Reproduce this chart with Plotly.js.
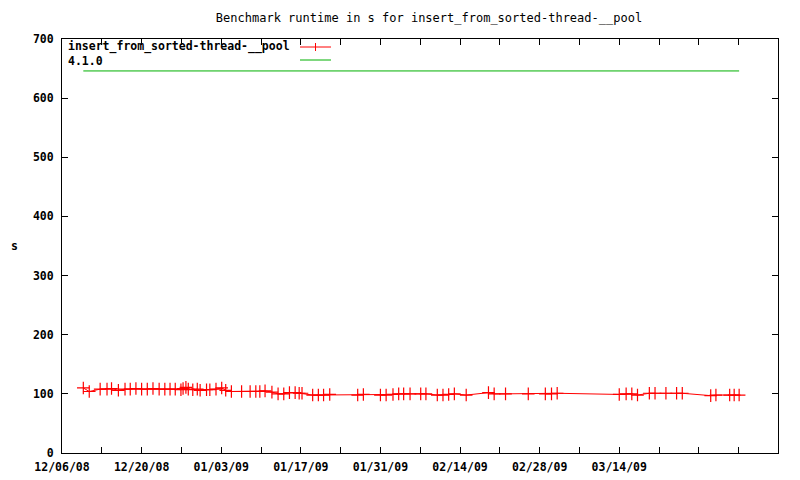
<!DOCTYPE html>
<html>
<head>
<meta charset="utf-8">
<script src="https://cdn.plot.ly/plotly-3.0.1.min.js"></script>
<style>html,body{margin:0;padding:0;background:#fff;}#chart{width:800px;height:480px;}</style>
</head>
<body>
<div id="chart"></div>
<script>
// ---- data ----
const seriesName = 'insert_from_sorted-thread-__pool';
const baselineName = '4.1.0';

const runDates = [
  '2008-12-09 18:00','2008-12-10 19:00','2008-12-12 17:00','2008-12-13 22:00','2008-12-14 17:00',
  '2008-12-15 22:00','2008-12-17 02:00','2008-12-18 00:00','2008-12-19 00:00','2008-12-20 00:00',
  '2008-12-21 00:00','2008-12-22 00:00','2008-12-23 02:00','2008-12-24 02:00','2008-12-25 00:00',
  '2008-12-25 22:00','2008-12-26 22:00','2008-12-27 07:00','2008-12-27 19:00','2008-12-28 05:00',
  '2008-12-29 00:00','2008-12-29 19:00','2008-12-30 07:00','2008-12-31 10:00','2009-01-01 00:00',
  '2009-01-02 02:00','2009-01-03 02:00','2009-01-03 19:00','2009-01-04 19:00','2009-01-06 14:00',
  '2009-01-08 02:00','2009-01-09 02:00','2009-01-09 19:00','2009-01-10 17:00','2009-01-11 22:00',
  '2009-01-13 00:00','2009-01-14 00:00','2009-01-15 00:00','2009-01-16 00:00','2009-01-16 17:00',
  '2009-01-17 05:00','2009-01-19 02:00','2009-01-20 02:00','2009-01-21 00:00','2009-01-22 02:00',
  '2009-01-27 00:00','2009-01-28 00:00','2009-01-31 00:00','2009-02-01 00:00','2009-02-02 05:00',
  '2009-02-03 05:00','2009-02-04 02:00','2009-02-05 05:00','2009-02-07 02:00','2009-02-08 00:00',
  '2009-02-10 00:00','2009-02-11 00:00','2009-02-12 00:00','2009-02-13 00:00','2009-02-15 02:00',
  '2009-02-19 00:00','2009-02-20 00:00','2009-02-22 00:00','2009-02-26 00:00','2009-03-01 00:00',
  '2009-03-02 02:00','2009-03-03 02:00','2009-03-14 00:00','2009-03-15 05:00','2009-03-16 05:00',
  '2009-03-17 05:00','2009-03-19 07:00','2009-03-20 07:00','2009-03-22 05:00','2009-03-24 02:00',
  '2009-03-25 02:00','2009-03-30 02:00','2009-03-31 00:00','2009-04-02 10:00','2009-04-03 05:00',
  '2009-04-04 02:00'
];
const runValues = [
  110,104,108,108,109,
  106,108,108,109,108,
  108,109,108,108,108,
  108,107,109,111,108,
  107,108,106,107,107,
  108,110,106,104,104,
  104,104,104,105,103,
  100,100,102,102,101,
  101,98,98,98,99,
  98,99,98,98,99,
  100,100,100,100,100,
  98,98,99,100,98,
  102,100,100,100,100,
  100,101,99,100,100,
  98,101,101,101,101,
  101,97,98,98,98,
  98
];

const baselineDates = ['2008-12-09 18:00','2009-04-04 02:00'];
const baselineValues = [646, 646];

const tickDates = ['2008-12-06','2008-12-13','2008-12-20','2008-12-27','2009-01-03','2009-01-10',
  '2009-01-17','2009-01-24','2009-01-31','2009-02-07','2009-02-14','2009-02-21','2009-02-28',
  '2009-03-07','2009-03-14','2009-03-21','2009-03-28','2009-04-04'];
const tickLabels = ['12/06/08','','12/20/08','','01/03/09','','01/17/09','','01/31/09','',
  '02/14/09','','02/28/09','','03/14/09','','',''];
const yTicks = [0,100,200,300,400,500,600,700];

// ---- chart ----
const MONO = '"DejaVu Sans Mono", "Liberation Mono", monospace';
const RED = '#ff0000', GREEN = '#00b000';

const traces = [
  {
    x: runDates, y: runValues, name: seriesName, type: 'scatter', mode: 'lines+markers',
    line: {color: RED, width: 1},
    marker: {symbol: 'cross-thin-open', size: 9, color: RED, line: {color: RED, width: 1.2}},
    showlegend: false
  },
  {
    x: baselineDates, y: baselineValues, name: baselineName, type: 'scatter', mode: 'lines',
    line: {color: GREEN, width: 1}, showlegend: false
  }
];

const L = 62, R = 778, T = 39, B = 453;
const px = v => (v - L) / (R - L);
const py = v => (B - v) / (B - T);

const layout = {
  width: 800, height: 480,
  margin: {l: L, r: 800 - R, t: T, b: 480 - B},
  paper_bgcolor: '#fff', plot_bgcolor: '#fff',
  title: {text: 'Benchmark runtime in s for ' + seriesName, font: {family: MONO, size: 12, color: '#000'},
          x: 429 / 800, xanchor: 'center', y: 1 - 18 / 480, yanchor: 'middle', yref: 'container'},
  xaxis: {
    type: 'date', range: ['2008-12-06', '2009-04-10 22:00'],
    tickmode: 'array', tickvals: tickDates, ticktext: tickLabels,
    ticks: 'inside', ticklen: 6, tickcolor: '#000', tickwidth: 1,
    showline: true, linecolor: '#000', linewidth: 1, mirror: 'ticks',
    showgrid: false, zeroline: false, ticklabelstandoff: 3,
    tickfont: {family: MONO, size: 11.5, color: '#000', weight: 'bold'}
  },
  yaxis: {
    range: [0, 700], tickmode: 'array', tickvals: yTicks, ticktext: yTicks.map(String),
    ticks: 'inside', ticklen: 6, tickcolor: '#000', tickwidth: 1,
    showline: true, linecolor: '#000', linewidth: 1, mirror: 'ticks',
    showgrid: false, zeroline: false, ticklabelstandoff: 5,
    tickfont: {family: MONO, size: 11.5, color: '#000', weight: 'bold'}
  },
  annotations: [
    {text: 's', xref: 'paper', yref: 'paper', x: (14 - L) / (R - L), y: py(246), xanchor: 'center', yanchor: 'middle',
     showarrow: false, font: {family: MONO, size: 11.5, color: '#000', weight: 'bold'}},
    {text: seriesName, xref: 'paper', yref: 'paper', x: px(66), y: py(47), xanchor: 'left', yanchor: 'middle',
     showarrow: false, font: {family: MONO, size: 11.5, color: '#000', weight: 'bold'}},
    {text: baselineName, xref: 'paper', yref: 'paper', x: px(66), y: py(61), xanchor: 'left', yanchor: 'middle',
     showarrow: false, font: {family: MONO, size: 11.5, color: '#000', weight: 'bold'}}
  ],
  shapes: [
    {type: 'line', xref: 'paper', yref: 'paper', x0: px(300), x1: px(331), y0: py(47), y1: py(47), line: {color: RED, width: 1}},
    {type: 'line', xref: 'paper', yref: 'paper', x0: px(315.5), x1: px(315.5), y0: py(43), y1: py(51), line: {color: RED, width: 1}},
    {type: 'line', xref: 'paper', yref: 'paper', x0: px(300), x1: px(331), y0: py(60), y1: py(60), line: {color: GREEN, width: 1}}
  ],
  showlegend: false
};

Plotly.newPlot('chart', traces, layout, {displayModeBar: false, staticPlot: true});
</script>
</body>
</html>
